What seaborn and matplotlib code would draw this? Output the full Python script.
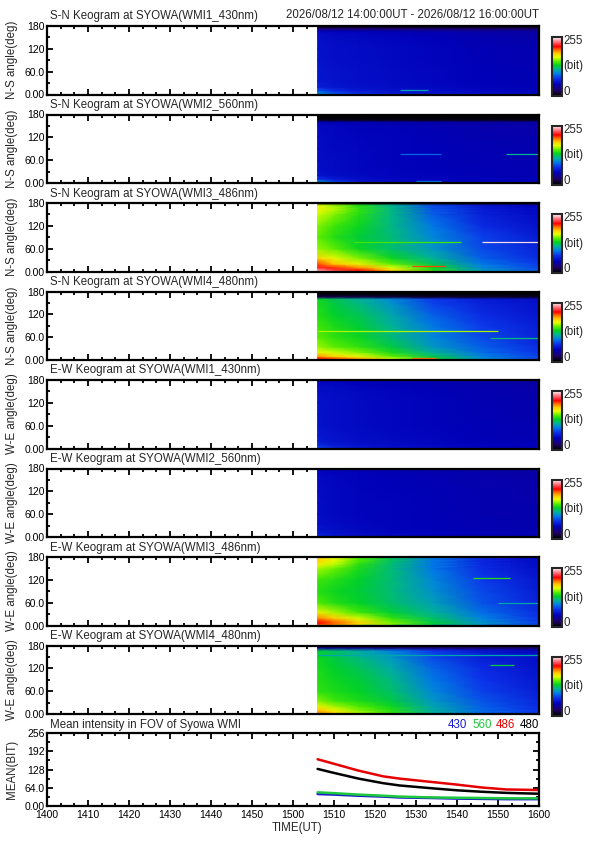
import numpy as np
import pandas as pd
import seaborn as sns
import matplotlib
matplotlib.use("Agg")
import matplotlib.pyplot as plt
from matplotlib.colors import LinearSegmentedColormap, Normalize
from matplotlib.ticker import MultipleLocator, FixedLocator
from matplotlib.cm import ScalarMappable

# ---- keogram sample grid (minutes after 14:00 UT, angle in deg) ----
time_nodes = [66, 70, 76, 84, 94, 106, 120]
angle_nodes = [0, 4, 10, 20, 35, 60, 90, 120, 150, 160, 166, 174, 180]

kg_sn_430 = [
    [95, 80, 70, 64, 60, 56, 54],
    [100, 85, 72, 65, 62, 58, 55],
    [85, 72, 64, 60, 57, 54, 52],
    [66, 62, 59, 57, 55, 52, 50],
    [62, 60, 58, 56, 54, 51, 49],
    [62, 60, 58, 56, 54, 51, 49],
    [60, 58, 57, 55, 53, 50, 48],
    [60, 58, 57, 55, 53, 50, 48],
    [58, 56, 55, 53, 51, 48, 46],
    [57, 55, 54, 52, 50, 47, 45],
    [54, 52, 51, 49, 47, 45, 44],
    [25, 25, 24, 24, 23, 22, 22],
    [0, 0, 0, 0, 0, 0, 0],
]
kg_sn_560 = [
    [110, 85, 65, 58, 56, 54, 52],
    [105, 80, 63, 57, 55, 53, 51],
    [75, 65, 58, 55, 53, 51, 50],
    [60, 57, 55, 53, 52, 50, 49],
    [58, 56, 54, 53, 51, 50, 48],
    [57, 56, 54, 52, 51, 49, 48],
    [57, 55, 54, 52, 51, 49, 48],
    [56, 55, 53, 52, 50, 48, 47],
    [55, 54, 52, 51, 49, 47, 46],
    [50, 49, 48, 47, 46, 45, 44],
    [5, 5, 5, 5, 5, 5, 5],
    [0, 0, 0, 0, 0, 0, 0],
    [0, 0, 0, 0, 0, 0, 0],
]
kg_sn_486 = [
    [245, 235, 218, 190, 140, 100, 80],
    [240, 225, 212, 180, 140, 105, 85],
    [220, 210, 195, 168, 135, 100, 82],
    [205, 185, 172, 150, 125, 95, 78],
    [180, 170, 155, 135, 115, 88, 72],
    [158, 150, 135, 122, 105, 82, 68],
    [150, 140, 130, 120, 100, 80, 65],
    [155, 145, 135, 118, 95, 72, 60],
    [165, 155, 140, 118, 88, 67, 56],
    [170, 160, 142, 118, 86, 66, 55],
    [172, 162, 142, 118, 85, 65, 55],
    [170, 158, 140, 115, 82, 62, 52],
    [0, 0, 0, 0, 0, 0, 0],
]
kg_sn_480 = [
    [215, 210, 195, 170, 135, 100, 80],
    [212, 205, 190, 165, 135, 102, 82],
    [192, 180, 170, 150, 125, 98, 80],
    [172, 165, 155, 138, 115, 92, 76],
    [158, 150, 142, 128, 105, 88, 72],
    [150, 142, 135, 120, 100, 82, 68],
    [145, 138, 130, 115, 95, 78, 66],
    [140, 132, 125, 110, 88, 72, 62],
    [138, 128, 118, 103, 80, 67, 60],
    [135, 125, 115, 100, 78, 65, 58],
    [20, 20, 18, 16, 12, 10, 10],
    [0, 0, 0, 0, 0, 0, 0],
    [0, 0, 0, 0, 0, 0, 0],
]
kg_ew_430 = [
    [75, 65, 60, 57, 55, 52, 50],
    [80, 68, 62, 58, 56, 53, 51],
    [70, 64, 60, 57, 55, 52, 50],
    [64, 61, 58, 56, 54, 51, 49],
    [62, 60, 57, 55, 53, 50, 48],
    [60, 58, 56, 54, 52, 50, 48],
    [60, 58, 56, 54, 52, 49, 47],
    [60, 58, 56, 54, 52, 49, 47],
    [58, 57, 55, 53, 51, 48, 46],
    [57, 56, 54, 52, 50, 48, 46],
    [56, 55, 53, 51, 50, 47, 45],
    [54, 53, 52, 50, 48, 46, 44],
    [50, 49, 48, 47, 46, 44, 42],
]
kg_ew_560 = [
    [65, 60, 56, 54, 52, 50, 49],
    [68, 62, 57, 54, 52, 50, 49],
    [64, 60, 56, 54, 52, 50, 48],
    [60, 58, 55, 53, 51, 49, 48],
    [58, 56, 54, 52, 51, 49, 47],
    [57, 55, 53, 52, 50, 48, 47],
    [57, 55, 53, 52, 50, 48, 47],
    [56, 55, 53, 51, 50, 48, 46],
    [56, 54, 52, 51, 49, 47, 46],
    [55, 54, 52, 50, 49, 47, 45],
    [55, 53, 52, 50, 49, 47, 45],
    [53, 52, 50, 49, 47, 45, 44],
    [48, 47, 46, 45, 44, 43, 42],
]
kg_ew_486 = [
    [160, 140, 115, 98, 85, 70, 60],
    [212, 200, 182, 155, 130, 105, 80],
    [212, 200, 180, 152, 128, 102, 78],
    [195, 182, 165, 142, 122, 98, 76],
    [172, 160, 145, 130, 115, 92, 72],
    [148, 140, 133, 122, 108, 85, 68],
    [140, 135, 130, 120, 103, 82, 65],
    [145, 140, 132, 120, 100, 78, 62],
    [160, 152, 138, 120, 95, 72, 58],
    [172, 162, 140, 120, 95, 71, 57],
    [178, 166, 145, 122, 95, 70, 56],
    [182, 170, 148, 124, 95, 70, 55],
    [185, 172, 150, 125, 95, 70, 55],
]
kg_ew_480 = [
    [160, 150, 135, 120, 100, 82, 70],
    [195, 180, 160, 142, 115, 92, 76],
    [185, 172, 155, 140, 112, 90, 75],
    [172, 160, 148, 135, 110, 88, 72],
    [155, 145, 138, 128, 105, 85, 70],
    [142, 138, 133, 122, 100, 80, 66],
    [140, 135, 130, 118, 95, 76, 63],
    [138, 132, 125, 112, 90, 72, 60],
    [135, 128, 118, 105, 82, 66, 58],
    [132, 125, 115, 100, 80, 65, 55],
    [128, 122, 112, 98, 78, 63, 54],
    [40, 38, 35, 32, 30, 28, 26],
    [15, 15, 14, 13, 12, 12, 12],
]

# thin bright streaks: (angle, start min, end min, value)
streaks_sn_430 = [(11, 86, 93, 110)]
streaks_sn_560 = [(77, 86, 96, 90), (77, 112, 120, 115), (6, 90, 96, 95)]
streaks_sn_486 = [(77, 75, 101, 145), (77, 106, 120, 250), (14, 89, 97, 205)]
streaks_sn_480 = [(77, 66, 110, 160), (59, 108, 120, 120), (5, 89, 95, 200)]
streaks_ew_430 = []
streaks_ew_560 = []
streaks_ew_486 = [(126, 104, 113, 140), (59, 110, 120, 110)]
streaks_ew_480 = [(154, 66, 120, 110), (128, 108, 114, 130)]

panel_titles = [
    "S-N Keogram at SYOWA(WMI1_430nm)", "S-N Keogram at SYOWA(WMI2_560nm)",
    "S-N Keogram at SYOWA(WMI3_486nm)", "S-N Keogram at SYOWA(WMI4_480nm)",
    "E-W Keogram at SYOWA(WMI1_430nm)", "E-W Keogram at SYOWA(WMI2_560nm)",
    "E-W Keogram at SYOWA(WMI3_486nm)", "E-W Keogram at SYOWA(WMI4_480nm)",
]
panel_ylabels = ["N-S angle(deg)"] * 4 + ["W-E angle(deg)"] * 4
panel_grids = [kg_sn_430, kg_sn_560, kg_sn_486, kg_sn_480,
               kg_ew_430, kg_ew_560, kg_ew_486, kg_ew_480]
panel_streaks = [streaks_sn_430, streaks_sn_560, streaks_sn_486, streaks_sn_480,
                 streaks_ew_430, streaks_ew_560, streaks_ew_486, streaks_ew_480]

angle_ticks = [0, 60, 120, 180]
angle_labels = ["0.00", "60.0", "120", "180"]
time_ticks = [0, 10, 20, 30, 40, 50, 60, 70, 80, 90, 100, 110, 120]
time_labels = ["1400", "1410", "1420", "1430", "1440", "1450", "1500",
               "1510", "1520", "1530", "1540", "1550", "1600"]

# ---- mean intensity in FOV ----
mean_time = [66, 70, 76, 82, 86, 94, 100, 106, 112, 120]
mean_430 = [42, 40, 36, 33, 30, 28, 26, 25, 24, 24]
mean_560 = [48, 45, 40, 36, 33, 30, 29, 28, 27, 27]
mean_486 = [164, 148, 124, 104, 96, 84, 75, 65, 58, 56]
mean_480 = [130, 116, 96, 80, 72, 62, 55, 50, 46, 43]
mean_ticks = [0, 64, 128, 192, 256]
mean_labels = ["0.00", "64.0", "128", "192", "256"]
bands = ["430", "560", "486", "480"]
band_colors = {"430": "#1a1acc", "560": "#1ec83c", "486": "#e60000", "480": "#000000"}

sns.set_style("ticks")
plt.rcParams['font.family'] = ['Liberation Sans', 'DejaVu Sans']

W, H = 595, 842
fig = plt.figure(figsize=(W / 100, H / 100), dpi=100)


def fx(px):
    return px / W


def fy(py):
    return 1 - py / H


cmap = LinearSegmentedColormap.from_list('idl39', [
    (0.00, (0, 0, 0)),
    (0.10, (0.12, 0, 0.42)),
    (0.20, (0, 0, 0.72)),
    (0.30, (0.05, 0.2, 0.92)),
    (0.38, (0, 0.5, 0.9)),
    (0.45, (0, 0.7, 0.6)),
    (0.52, (0, 0.82, 0.15)),
    (0.58, (0.3, 0.92, 0)),
    (0.66, (0.9, 1, 0)),
    (0.72, (1, 0.8, 0)),
    (0.78, (1, 0.45, 0)),
    (0.84, (1, 0, 0)),
    (0.92, (1, 0.45, 0.5)),
    (1.00, (1, 1, 1)),
])
norm = Normalize(0, 255)
FS_TXT = 8.3   # titles / axis labels
FS_TCK = 7.5   # tick labels


def style_axis(ax):
    for s in ax.spines.values():
        s.set_linewidth(1.6)
        s.set_color("black")
    ax.tick_params(which='both', direction='in', top=True, right=True,
                   width=1.3, colors='black', labelsize=FS_TCK, pad=1.5)
    ax.tick_params(which='major', length=4)
    ax.tick_params(which='minor', length=2.5)
    ax.set_xlim(0, 120)
    ax.xaxis.set_major_locator(FixedLocator(time_ticks))
    ax.xaxis.set_minor_locator(MultipleLocator(10 / 3))


left, right = 47, 539
for i in range(8):
    top = 26 + 88.5 * i
    ax = fig.add_axes([fx(left), fy(top + 68.5), fx(right) - fx(left), 68.5 / H])
    ax.pcolormesh(time_nodes, angle_nodes, np.array(panel_grids[i], dtype=float),
                  cmap=cmap, norm=norm, shading='gouraud')
    for a, t0, t1, v in panel_streaks[i]:
        ax.hlines(a, t0, t1, colors=[cmap(norm(v))], linewidth=0.9)
    style_axis(ax)
    ax.set_ylim(0, 180)
    ax.set_yticks(angle_ticks)
    ax.set_yticklabels(angle_labels)
    ax.yaxis.set_minor_locator(MultipleLocator(30))
    ax.set_xticklabels([])
    fig.text(fx(50), fy(top - 9.5), panel_titles[i], fontsize=FS_TXT,
             ha='left', va='center')
    fig.text(fx(12), fy(top + 34), panel_ylabels[i], fontsize=FS_TXT,
             rotation=90, ha='center', va='center')

    cax = fig.add_axes([fx(552), fy(top + 70), fx(562) - fx(552), 59 / H])
    cb = fig.colorbar(ScalarMappable(norm=norm, cmap=cmap), cax=cax)
    cb.set_ticks([])
    cb.outline.set_linewidth(1.5)
    for yy, lab in [(0.93, "255"), (0.5, "(bit)"), (0.06, "0")]:
        fig.text(fx(563), fy(top + 70 - 59 * yy), lab, fontsize=FS_TXT,
                 ha='left', va='center')

fig.text(fx(539), fy(15), "2026/08/12 14:00:00UT - 2026/08/12 16:00:00UT",
         fontsize=FS_TXT, ha='right', va='center')

# mean intensity panel
axm = fig.add_axes([fx(left), fy(806), fx(right) - fx(left), 73 / H])
df = pd.DataFrame({
    "time": mean_time * 4,
    "mean": mean_430 + mean_560 + mean_486 + mean_480,
    "band": [b for b in bands for _ in mean_time],
})
sns.lineplot(data=df, x="time", y="mean", hue="band", hue_order=bands,
             palette=band_colors, legend=False, linewidth=1.8, ax=axm)
style_axis(axm)
axm.set_ylim(0, 256)
axm.set_yticks(mean_ticks)
axm.set_yticklabels(mean_labels)
axm.yaxis.set_minor_locator(MultipleLocator(32))
axm.set_xticklabels(time_labels)
axm.tick_params(axis='x', pad=3)
axm.set_xlabel("")
axm.set_ylabel("")
fig.text(fx(50), fy(725), "Mean intensity in FOV of Syowa WMI", fontsize=FS_TXT,
         ha='left', va='center')
fig.text(fx(12), fy(769), "MEAN(BIT)", fontsize=FS_TXT, rotation=90,
         ha='center', va='center')
fig.text(fx(297), fy(828), "TIME(UT)", fontsize=FS_TXT, ha='center', va='center')
for xr, b in zip([467, 492, 515, 539], bands):
    fig.text(fx(xr), fy(725), b, color=band_colors[b], fontsize=FS_TXT,
             ha='right', va='center')

fig.savefig("out.png", dpi=100)
